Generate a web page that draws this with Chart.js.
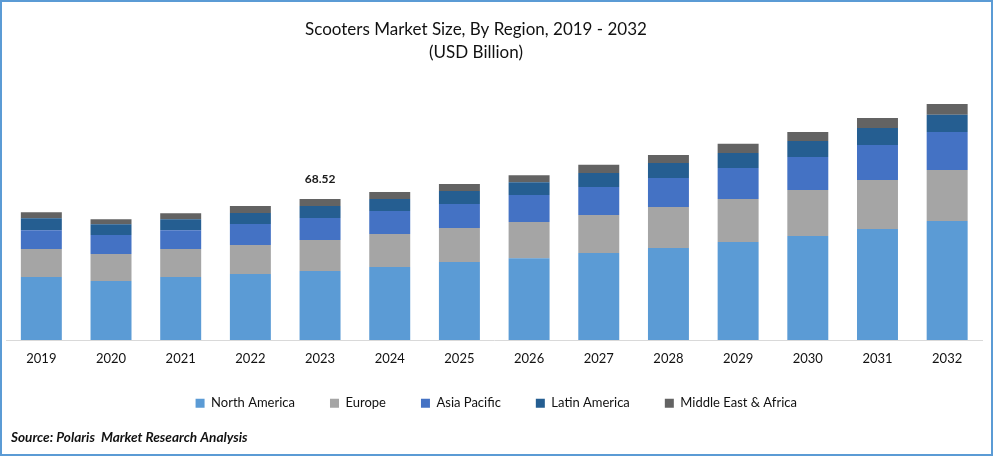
<!DOCTYPE html>
<html><head><meta charset="utf-8">
<style>
html,body{margin:0;padding:0;background:#fff;overflow:hidden}
#wrap{position:absolute;left:0;top:0;width:993px;height:456px;box-sizing:border-box}
#frame{position:absolute;left:0;top:0;width:993px;height:456px;box-sizing:border-box;border:2px solid #5B9BD5;pointer-events:none}
</style>
<script src="https://cdn.jsdelivr.net/npm/chart.js@4"></script>
</head><body>
<div id="wrap"><canvas id="c" width="993" height="456"></canvas><div id="frame"></div></div>
<script>
const years=["2019","2020","2021","2022","2023","2024","2025","2026","2027","2028","2029","2030","2031","2032"];
const northAmerica=[30.6,28.7,30.6,32.1,33.53,35.5,37.9,39.8,42.3,44.7,47.6,50.5,53.9,57.8];
const europe=[13.6,13.1,13.6,14.1,15.06,16.0,16.5,17.5,18.5,19.9,20.9,22.4,23.8,24.8];
const asiaPacific=[9.2,9.2,9.2,10.2,10.69,11.2,11.7,13.1,13.6,14.1,15.1,16.0,17.0,18.5];
const latinAmerica=[5.8,5.3,5.3,5.3,5.83,5.8,6.3,6.3,6.8,7.3,7.3,7.8,8.3,8.3];
const middleEastAfrica=[2.9,2.4,2.9,3.4,3.41,3.4,3.4,3.4,3.9,3.9,4.4,4.4,4.9,5.3];
const titleLines=["Scooters Market Size, By Region, 2019 - 2032","(USD Billion)"];
const sourceText="Source: Polaris  Market Research Analysis";
const annotatedYear="2023";
const annotatedText="68.52";
const FONT="Lato, Carlito, sans-serif";
const LEGEND_TRIM=16;

const mk=(label,data,color)=>({label,data,backgroundColor:color,borderWidth:0,stack:"s",categoryPercentage:1,barPercentage:0.588});
const totalLabel={id:"totalLabel",
 beforeLayout(ch){
  const lg=ch.legend;
  if(!lg._trimmed){
    const f=lg.fit;
    lg.fit=function(){f.call(this);this.height-=LEGEND_TRIM;};
    lg._trimmed=true;
  }
 },
 afterLayout(ch){
  ch.titleBlock.right=2*476-ch.titleBlock.left;
  ch.legend.right+=4;
  ch.legend.top-=LEGEND_TRIM;
  const sub=ch.boxes.find(b=>b.options&&b.options.text===sourceText);
  if(sub){sub.left=11;}
 },
 afterDatasetsDraw(ch){
  const i=years.indexOf(annotatedYear);
  let sum=0;ch.data.datasets.forEach(d=>sum+=d.data[i]);
  const x=ch.scales.x.getPixelForValue(i),y=ch.scales.y.getPixelForValue(sum);
  const g=ch.ctx;g.save();g.font="bold 12px "+FONT;g.fillStyle="#1a1a1a";g.textAlign="center";g.textBaseline="middle";
  g.fillText(annotatedText,x,y-20);g.restore();
}};
new Chart(document.getElementById("c"),{
  type:"bar",
  data:{labels:years,datasets:[
    mk("North America",northAmerica,"#5B9BD5"),
    mk("Europe",europe,"#A5A5A5"),
    mk("Asia Pacific",asiaPacific,"#4472C4"),
    mk("Latin America",latinAmerica,"#255E91"),
    mk("Middle East & Africa",middleEastAfrica,"#636363")]},
  options:{
    responsive:false,animation:false,
    layout:{padding:{left:6.5,right:11,top:0,bottom:10}},
    scales:{
      x:{stacked:true,grid:{display:false,drawTicks:false},border:{color:"#D9D9D9",width:1},
         ticks:{color:"#111",font:{family:FONT,size:13},padding:11,maxRotation:0,autoSkip:false}},
      y:{stacked:true,display:false,min:0,max:134.13}
    },
    plugins:{
      title:{display:true,text:titleLines,color:"#111",font:{family:FONT,size:17,weight:"normal",lineHeight:1.35},padding:{top:18,bottom:0}},
      subtitle:{display:true,position:"bottom",align:"start",text:sourceText,color:"#111",font:{family:FONT,size:13.6,weight:"bold",style:"italic"},padding:{top:10,bottom:0}},
      legend:{position:"bottom",labels:{boxWidth:9,boxHeight:9,padding:35,color:"#111",font:{family:FONT,size:13}}},
      tooltip:{enabled:false}
    }
  },
  plugins:[totalLabel]
});
</script></body></html>
